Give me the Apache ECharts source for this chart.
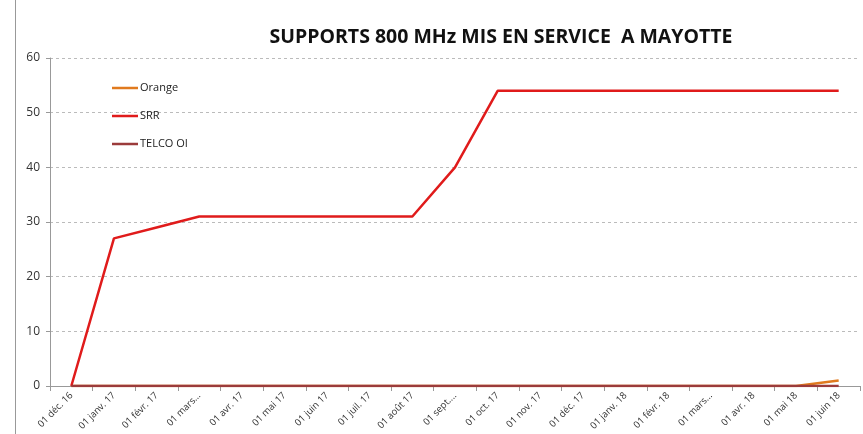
<!DOCTYPE html>
<html lang="fr">
<head>
	<meta charset="UTF-8">
	<title>Supports 800 MHz Mayotte</title>
	<script src="https://cdn.jsdelivr.net/npm/echarts@6/dist/echarts.min.js"></script>
	<style>
		html,body{margin:0;padding:0;width:100%;height:100%;background:#fff;}
		#chart{width:863px;height:434px;}
	</style>
</head>
<body>
	<div id="chart"></div>
<script>
	// categories (axis labels as shown on the chart)
	var months = ['01 déc. 16', '01 janv. 17', '01 févr. 17', '01 mars...', '01 avr. 17', '01 mai 17',
		'01 juin 17', '01 juil. 17', '01 août 17', '01 sept....', '01 oct. 17', '01 nov. 17',
		'01 déc. 17', '01 janv. 18', '01 févr. 18', '01 mars...', '01 avr. 18', '01 mai 18', '01 juin 18'];

	var orange = [0, 0, 0, 0, 0, 0, 0, 0, 0, 0, 0, 0, 0, 0, 0, 0, 0, 0, 1];
	var srr    = [0, 27, 29, 31, 31, 31, 31, 31, 31, 40, 54, 54, 54, 54, 54, 54, 54, 54, 54];
	var telco  = [0, 0, 0, 0, 0, 0, 0, 0, 0, 0, 0, 0, 0, 0, 0, 0, 0, 0, 0];

	var font = '"Open Sans", "Noto Sans", sans-serif';

	var myChart = echarts.init(document.getElementById('chart'));

	function line(name, data, color) {
		return {
			name: name,
			type: 'line',
			data: data,
			symbol: 'none',
			lineStyle: {color: color, width: 2.5},
			itemStyle: {color: color},
			animation: false
		};
	}

	var options = {
		backgroundColor: '#fff',
		title: {
			text: 'SUPPORTS 800 MHz MIS EN SERVICE  A MAYOTTE',
			left: 496,
			textAlign: 'center',
			top: 22,
			textStyle: {fontFamily: font, fontSize: 19.5, fontWeight: 'bold', color: '#111'}
		},
		legend: {
			orient: 'vertical',
			left: 107,
			top: 76,
			itemGap: 14,
			itemWidth: 26,
			itemHeight: 14,
			icon: 'path://M0,5.75 L26,5.75 L26,8.25 L0,8.25 Z',
			textStyle: {fontFamily: font, fontSize: 11, color: '#222', padding: [0, 0, 0, -3], height: 14, lineHeight: 14},
			data: ['Orange', 'SRR', 'TELCO OI']
		},
		grid: {left: 50, right: 3, top: 58, bottom: 48, containLabel: false},
		xAxis: {
			type: 'category',
			data: months,
			boundaryGap: true,
			axisLine: {lineStyle: {color: '#999', width: 1}},
			axisTick: {show: true, length: 5, lineStyle: {color: '#999'}},
			axisLabel: {rotate: 45, interval: 0, fontFamily: font, fontSize: 9.5, color: '#333', margin: 8}
		},
		yAxis: {
			type: 'value',
			min: 0,
			max: 60,
			interval: 10,
			axisLine: {show: true, lineStyle: {color: '#999'}},
			axisTick: {show: true, length: 4, lineStyle: {color: '#999'}},
			axisLabel: {fontFamily: font, fontSize: 12, color: '#333', margin: 10},
			splitLine: {lineStyle: {color: '#bbb', type: [3, 3]}}
		},
		graphic: [{
			type: 'line',
			shape: {x1: 15.5, y1: 0, x2: 15.5, y2: 434},
			style: {stroke: '#999', lineWidth: 1}
		}],
		series: [
			line('Orange', orange, '#E07A1E'),
			line('SRR', srr, '#E01B1B'),
			line('TELCO OI', telco, '#9B3B3B')
		]
	};
	myChart.setOption(options);
</script>
</body>
</html>
